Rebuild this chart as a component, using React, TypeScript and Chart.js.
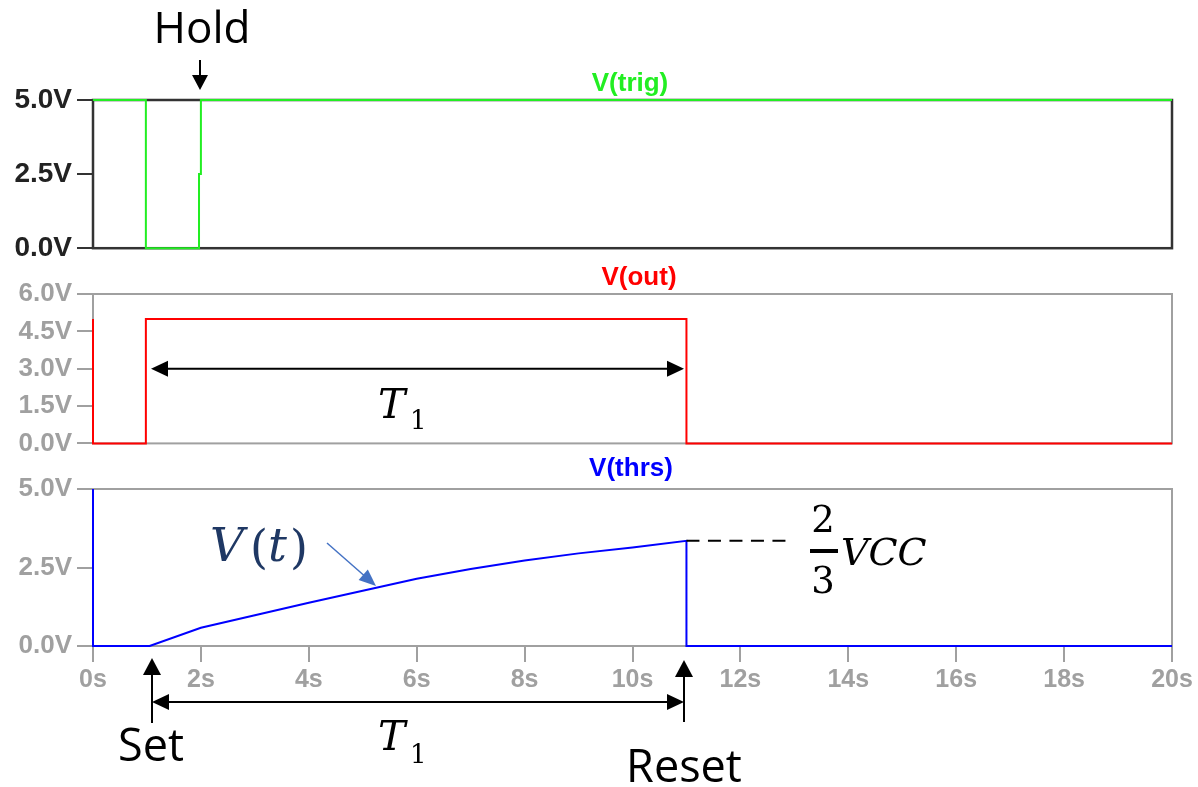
import React, { useEffect, useRef } from 'react';
import Chart from 'chart.js/auto';

// ---- data ----
const xTickValues = [0, 2, 4, 6, 8, 10, 12, 14, 16, 18, 20];

const trigTicks = [0, 2.5, 5];
const trigT = [0, 0.98, 0.98, 1.965, 1.965, 2.0, 2.0, 20];
const trigV = [5, 5, 0, 0, 2.5, 2.5, 5, 5];

const outTicks = [0, 1.5, 3, 4.5, 6];
const outT = [0, 0, 0.98, 0.98, 11, 11, 20];
const outV = [5, 0, 0, 5, 5, 0, 0];

const thrsTicks = [0, 2.5, 5];
const thrsT = [0, 0, 1.05, 2, 3, 4, 5, 6, 7, 8, 9, 10, 11, 11, 20];
const thrsV = [5, 0, 0, 0.58, 0.98, 1.38, 1.76, 2.14, 2.45, 2.72, 2.95, 3.14, 3.35, 0, 0];

const FONT = '"Liberation Sans", Arial, sans-serif';
const SERIF = '"DejaVu Serif", "Liberation Serif", serif';
const HAND = '"Open Sans", "Noto Sans", sans-serif';
const GRAY = '#a0a0a0';
const DARK = '#333333';

function head(ctx: CanvasRenderingContext2D, x: number, y: number, ang: number, len: number, half: number) {
  ctx.save();
  ctx.translate(x, y);
  ctx.rotate(ang);
  ctx.beginPath();
  ctx.moveTo(0, 0);
  ctx.lineTo(-len, -half);
  ctx.lineTo(-len, half);
  ctx.closePath();
  ctx.fill();
  ctx.restore();
}

function arrow(ctx: CanvasRenderingContext2D, x1: number, y1: number, x2: number, y2: number,
  len: number, half: number, color: string, lw: number, both = false) {
  const a = Math.atan2(y2 - y1, x2 - x1);
  ctx.save();
  ctx.strokeStyle = color;
  ctx.fillStyle = color;
  ctx.lineWidth = lw;
  ctx.beginPath();
  const s = both ? len * 0.8 : 0;
  ctx.moveTo(x1 + Math.cos(a) * s, y1 + Math.sin(a) * s);
  ctx.lineTo(x2 - Math.cos(a) * len * 0.8, y2 - Math.sin(a) * len * 0.8);
  ctx.stroke();
  head(ctx, x2, y2, a, len, half);
  if (both) head(ctx, x1, y1, a + Math.PI, len, half);
  ctx.restore();
}

function text(ctx: CanvasRenderingContext2D, str: string, x: number, y: number, font: string, color: string, align: CanvasTextAlign = 'left') {
  ctx.save();
  ctx.font = font;
  ctx.fillStyle = color;
  ctx.textAlign = align;
  ctx.textBaseline = 'alphabetic';
  ctx.fillText(str, x, y);
  ctx.restore();
}

type Panel = {
  t: number[]; v: number[]; color: string; ticks: number[]; min: number; max: number;
  padTop: number; padBottom: number; showX: boolean; xHeight: number;
  labelFont: any; labelColor: string; tickColor: string; frameColor: string; frameWidth: number; offset: number;
  draw: (ctx: CanvasRenderingContext2D, chart: any, off: number) => void;
};

function makeConfig(p: Panel): any {
  return {
    type: 'line',
    data: {
      datasets: [{
        data: p.t.map((x, i) => ({ x, y: p.v[i] })),
        borderColor: p.color,
        borderWidth: 2,
        pointRadius: 0,
        tension: 0,
        fill: false,
        clip: false,
      }],
    },
    options: {
      animation: false,
      responsive: false,
      events: [],
      layout: { padding: { left: 0, right: 26, top: p.padTop, bottom: p.padBottom } },
      plugins: { legend: { display: false }, tooltip: { enabled: false } },
      scales: {
        x: {
          type: 'linear', min: 0, max: 20, display: p.showX,
          afterBuildTicks: (s: any) => { s.ticks = xTickValues.map((v) => ({ value: v })); },
          ticks: {
            callback: (v: any) => v + 's',
            font: { family: FONT, size: 25, weight: 'bold' },
            color: GRAY, padding: 3, maxRotation: 0, autoSkip: false,
          },
          grid: { drawOnChartArea: false, tickLength: 16, color: GRAY, lineWidth: 2 },
          border: { display: false },
          afterFit: (s: any) => { s.height = p.xHeight; },
        },
        y: {
          min: p.min, max: p.max,
          afterBuildTicks: (s: any) => { s.ticks = p.ticks.map((v) => ({ value: v })); },
          ticks: {
            callback: (v: any) => Number(v).toFixed(1) + 'V',
            font: p.labelFont,
            color: p.labelColor, padding: 5,
          },
          grid: { drawOnChartArea: false, tickLength: 16, color: p.tickColor, lineWidth: 2 },
          border: { display: false },
          afterFit: (s: any) => { s.width = 93; },
        },
      },
    },
    plugins: [{
      id: 'frame',
      beforeDatasetsDraw(chart: any) {
        const { ctx, chartArea: a } = chart;
        ctx.save();
        ctx.strokeStyle = p.frameColor;
        ctx.lineWidth = p.frameWidth;
        ctx.strokeRect(a.left, a.top, a.right - a.left, a.bottom - a.top);
        ctx.restore();
      },
      afterDraw(chart: any) {
        const ctx = chart.ctx as CanvasRenderingContext2D;
        ctx.save();
        ctx.translate(0, -p.offset);
        p.draw(ctx, chart, p.offset);
        ctx.restore();
      },
    }],
  };
}

const TITLE = `bold 26px ${FONT}`;

const panel1: Panel = {
  t: trigT, v: trigV, color: '#22ee22', ticks: trigTicks, min: 0, max: 5,
  padTop: 100, padBottom: 10, showX: false, xHeight: 0,
  labelFont: { family: FONT, size: 28, weight: 'bold' }, labelColor: '#222222', tickColor: DARK, frameColor: DARK, frameWidth: 2.5,
  offset: 0,
  draw: (ctx) => {
    text(ctx, 'V(trig)', 630, 91, TITLE, '#22ee22', 'center');
    text(ctx, 'Hold', 202, 43, `44px ${HAND}`, '#000', 'center');
    arrow(ctx, 200, 60, 200, 90, 15, 8, '#000', 2);
  },
};

const panel2: Panel = {
  t: outT, v: outV, color: '#ff0000', ticks: outTicks, min: 0, max: 6,
  padTop: 36, padBottom: 9, showX: false, xHeight: 0,
  labelFont: { family: FONT, size: 26, weight: 'bold' }, labelColor: GRAY, tickColor: GRAY, frameColor: GRAY, frameWidth: 2,
  offset: 258,
  draw: (ctx, chart, off) => {
    text(ctx, 'V(out)', 639, 285, TITLE, '#ff0000', 'center');
    const y = chart.scales.y.getPixelForValue(3) + off;
    arrow(ctx, 151, y, 684, y, 17, 8, '#000', 2, true);
    text(ctx, 'T', 378, 418, `italic 41px ${SERIF}`, '#000');
    text(ctx, '1', 410, 429, `26px ${SERIF}`, '#000');
  },
};

const panel3: Panel = {
  t: thrsT, v: thrsV, color: '#0000ff', ticks: thrsTicks, min: 0, max: 5,
  padTop: 37, padBottom: 0, showX: true, xHeight: 141,
  labelFont: { family: FONT, size: 26, weight: 'bold' }, labelColor: GRAY, tickColor: GRAY, frameColor: GRAY, frameWidth: 2,
  offset: 452,
  draw: (ctx, chart, off) => {
    text(ctx, 'V(thrs)', 631, 476, TITLE, '#0000ff', 'center');
    const navy = '#1f3864';
    text(ctx, 'V', 210, 561, `italic 47px ${SERIF}`, navy);
    text(ctx, '(', 250, 563, `46px ${SERIF}`, navy);
    text(ctx, 't', 268, 561, `italic 47px ${SERIF}`, navy);
    text(ctx, ')', 290, 563, `46px ${SERIF}`, navy);
    arrow(ctx, 327, 543, 376, 586, 17, 7, '#4472c4', 1.5);

    const xs = chart.scales.x;
    const ys = chart.scales.y;
    const yEnd = ys.getPixelForValue(3.35) + off;
    ctx.save();
    ctx.strokeStyle = '#000';
    ctx.lineWidth = 2;
    ctx.setLineDash([13, 8.5]);
    ctx.beginPath();
    ctx.moveTo(xs.getPixelForValue(11), yEnd);
    ctx.lineTo(792, yEnd);
    ctx.stroke();
    ctx.restore();

    text(ctx, '2', 823, 532, `37px ${SERIF}`, '#000', 'center');
    ctx.fillStyle = '#000';
    ctx.fillRect(810, 549, 28, 4);
    text(ctx, '3', 823, 593, `37px ${SERIF}`, '#000', 'center');
    text(ctx, 'VCC', 841, 565, `italic 38px ${SERIF}`, '#000');

    arrow(ctx, 152, 723, 152, 658, 17, 9, '#000', 2);
    arrow(ctx, 684, 722, 684, 660, 17, 9, '#000', 2);
    arrow(ctx, 152, 702, 684, 702, 17, 8, '#000', 2, true);
    text(ctx, 'Set', 151, 761, `45px ${HAND}`, '#000', 'center');
    text(ctx, 'Reset', 684, 782, `45px ${HAND}`, '#000', 'center');
    text(ctx, 'T', 378, 750, `italic 41px ${SERIF}`, '#000');
    text(ctx, '1', 410, 763, `26px ${SERIF}`, '#000');
  },
};

export default function App() {
  const r1 = useRef<HTMLCanvasElement>(null);
  const r2 = useRef<HTMLCanvasElement>(null);
  const r3 = useRef<HTMLCanvasElement>(null);

  useEffect(() => {
    const charts = [
      new Chart(r1.current as HTMLCanvasElement, makeConfig(panel1)),
      new Chart(r2.current as HTMLCanvasElement, makeConfig(panel2)),
      new Chart(r3.current as HTMLCanvasElement, makeConfig(panel3)),
    ];
    return () => charts.forEach((c) => c.destroy());
  }, []);

  return (
    <div style={{ position: 'absolute', left: 0, top: 0, width: 1198, height: 787, background: '#fff', overflow: 'hidden' }}>
      <canvas ref={r1} width={1198} height={270} style={{ position: 'absolute', left: 0, top: 0 }} />
      <canvas ref={r2} width={1198} height={206} style={{ position: 'absolute', left: 0, top: 258 }} />
      <canvas ref={r3} width={1198} height={335} style={{ position: 'absolute', left: 0, top: 452 }} />
    </div>
  );
}
